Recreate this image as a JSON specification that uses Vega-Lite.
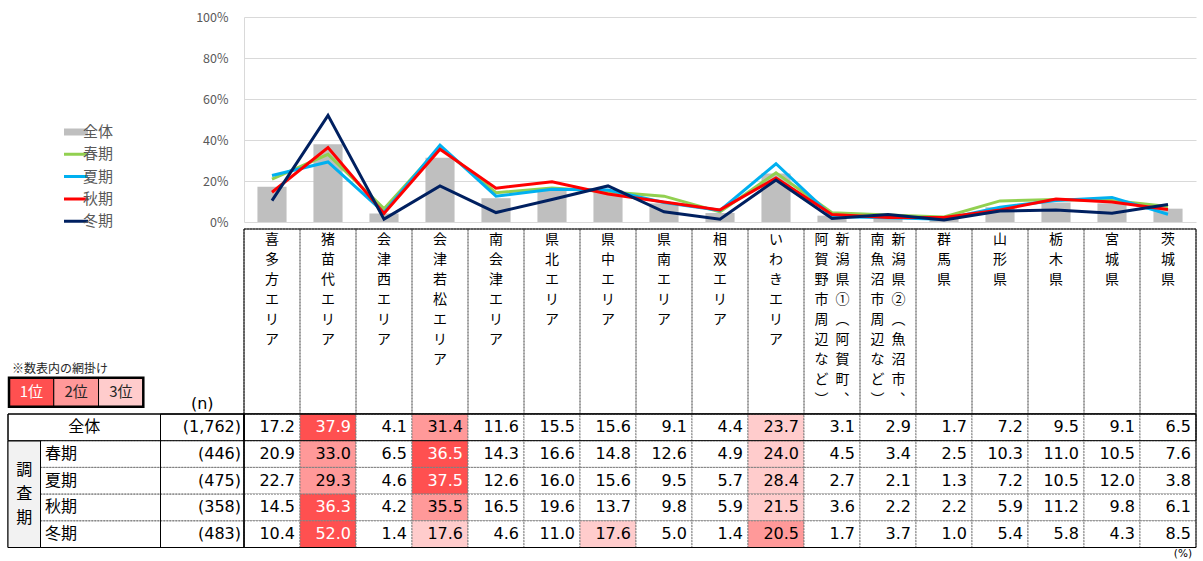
{
 "$schema": "https://vega.github.io/schema/vega-lite/v6.json",
 "width": 952,
 "height": 205,
 "autosize": {"type": "none"},
 "padding": {"left": 244, "top": 17, "right": 7, "bottom": 339},
 "background": "#ffffff",
 "config": {"view": {"stroke": null}, "font": "Noto Sans CJK JP"},
 "datasets": {
  "main": [
   {"season":"全体","area":"喜多方エリア","value":17.2},
   {"season":"全体","area":"猪苗代エリア","value":37.9},
   {"season":"全体","area":"会津西エリア","value":4.1},
   {"season":"全体","area":"会津若松エリア","value":31.4},
   {"season":"全体","area":"南会津エリア","value":11.6},
   {"season":"全体","area":"県北エリア","value":15.5},
   {"season":"全体","area":"県中エリア","value":15.6},
   {"season":"全体","area":"県南エリア","value":9.1},
   {"season":"全体","area":"相双エリア","value":4.4},
   {"season":"全体","area":"いわきエリア","value":23.7},
   {"season":"全体","area":"新潟県①（阿賀町、阿賀野市周辺など）","value":3.1},
   {"season":"全体","area":"新潟県②（魚沼市、南魚沼市周辺など）","value":2.9},
   {"season":"全体","area":"群馬県","value":1.7},
   {"season":"全体","area":"山形県","value":7.2},
   {"season":"全体","area":"栃木県","value":9.5},
   {"season":"全体","area":"宮城県","value":9.1},
   {"season":"全体","area":"茨城県","value":6.5},
   {"season":"春期","area":"喜多方エリア","value":20.9},
   {"season":"春期","area":"猪苗代エリア","value":33.0},
   {"season":"春期","area":"会津西エリア","value":6.5},
   {"season":"春期","area":"会津若松エリア","value":36.5},
   {"season":"春期","area":"南会津エリア","value":14.3},
   {"season":"春期","area":"県北エリア","value":16.6},
   {"season":"春期","area":"県中エリア","value":14.8},
   {"season":"春期","area":"県南エリア","value":12.6},
   {"season":"春期","area":"相双エリア","value":4.9},
   {"season":"春期","area":"いわきエリア","value":24.0},
   {"season":"春期","area":"新潟県①（阿賀町、阿賀野市周辺など）","value":4.5},
   {"season":"春期","area":"新潟県②（魚沼市、南魚沼市周辺など）","value":3.4},
   {"season":"春期","area":"群馬県","value":2.5},
   {"season":"春期","area":"山形県","value":10.3},
   {"season":"春期","area":"栃木県","value":11.0},
   {"season":"春期","area":"宮城県","value":10.5},
   {"season":"春期","area":"茨城県","value":7.6},
   {"season":"夏期","area":"喜多方エリア","value":22.7},
   {"season":"夏期","area":"猪苗代エリア","value":29.3},
   {"season":"夏期","area":"会津西エリア","value":4.6},
   {"season":"夏期","area":"会津若松エリア","value":37.5},
   {"season":"夏期","area":"南会津エリア","value":12.6},
   {"season":"夏期","area":"県北エリア","value":16.0},
   {"season":"夏期","area":"県中エリア","value":15.6},
   {"season":"夏期","area":"県南エリア","value":9.5},
   {"season":"夏期","area":"相双エリア","value":5.7},
   {"season":"夏期","area":"いわきエリア","value":28.4},
   {"season":"夏期","area":"新潟県①（阿賀町、阿賀野市周辺など）","value":2.7},
   {"season":"夏期","area":"新潟県②（魚沼市、南魚沼市周辺など）","value":2.1},
   {"season":"夏期","area":"群馬県","value":1.3},
   {"season":"夏期","area":"山形県","value":7.2},
   {"season":"夏期","area":"栃木県","value":10.5},
   {"season":"夏期","area":"宮城県","value":12.0},
   {"season":"夏期","area":"茨城県","value":3.8},
   {"season":"秋期","area":"喜多方エリア","value":14.5},
   {"season":"秋期","area":"猪苗代エリア","value":36.3},
   {"season":"秋期","area":"会津西エリア","value":4.2},
   {"season":"秋期","area":"会津若松エリア","value":35.5},
   {"season":"秋期","area":"南会津エリア","value":16.5},
   {"season":"秋期","area":"県北エリア","value":19.6},
   {"season":"秋期","area":"県中エリア","value":13.7},
   {"season":"秋期","area":"県南エリア","value":9.8},
   {"season":"秋期","area":"相双エリア","value":5.9},
   {"season":"秋期","area":"いわきエリア","value":21.5},
   {"season":"秋期","area":"新潟県①（阿賀町、阿賀野市周辺など）","value":3.6},
   {"season":"秋期","area":"新潟県②（魚沼市、南魚沼市周辺など）","value":2.2},
   {"season":"秋期","area":"群馬県","value":2.2},
   {"season":"秋期","area":"山形県","value":5.9},
   {"season":"秋期","area":"栃木県","value":11.2},
   {"season":"秋期","area":"宮城県","value":9.8},
   {"season":"秋期","area":"茨城県","value":6.1},
   {"season":"冬期","area":"喜多方エリア","value":10.4},
   {"season":"冬期","area":"猪苗代エリア","value":52.0},
   {"season":"冬期","area":"会津西エリア","value":1.4},
   {"season":"冬期","area":"会津若松エリア","value":17.6},
   {"season":"冬期","area":"南会津エリア","value":4.6},
   {"season":"冬期","area":"県北エリア","value":11.0},
   {"season":"冬期","area":"県中エリア","value":17.6},
   {"season":"冬期","area":"県南エリア","value":5.0},
   {"season":"冬期","area":"相双エリア","value":1.4},
   {"season":"冬期","area":"いわきエリア","value":20.5},
   {"season":"冬期","area":"新潟県①（阿賀町、阿賀野市周辺など）","value":1.7},
   {"season":"冬期","area":"新潟県②（魚沼市、南魚沼市周辺など）","value":3.7},
   {"season":"冬期","area":"群馬県","value":1.0},
   {"season":"冬期","area":"山形県","value":5.4},
   {"season":"冬期","area":"栃木県","value":5.8},
   {"season":"冬期","area":"宮城県","value":4.3},
   {"season":"冬期","area":"茨城県","value":8.5}
  ],
  "leftcells": [
   {"row":"全体","col":"全体","text":"全体"},
   {"row":"春期","col":"区分","text":"春期"},
   {"row":"夏期","col":"区分","text":"夏期"},
   {"row":"秋期","col":"区分","text":"秋期"},
   {"row":"冬期","col":"区分","text":"冬期"},
   {"row":"全体","col":"n","text":"(1,762)"},
   {"row":"春期","col":"n","text":"(446)"},
   {"row":"夏期","col":"n","text":"(475)"},
   {"row":"秋期","col":"n","text":"(358)"},
   {"row":"冬期","col":"n","text":"(483)"}
  ]
 },
 "resolve": {"scale": {"x": "independent", "y": "independent"}},
 "layer": [
  {
   "resolve": {"scale": {"y": "independent"}},
   "layer": [
    {
     "data": {"name": "main"},
     "layer": [
      {
       "transform": [{"filter": "datum.season == '全体'"}],
       "mark": {"type": "bar", "color": "#bfbfbf", "width": {"band": 0.52}},
       "encoding": {
        "x": {"field": "area", "type": "nominal",
         "scale": {"type": "band", "domain": ["喜多方エリア","猪苗代エリア","会津西エリア","会津若松エリア","南会津エリア","県北エリア","県中エリア","県南エリア","相双エリア","いわきエリア","新潟県①（阿賀町、阿賀野市周辺など）","新潟県②（魚沼市、南魚沼市周辺など）","群馬県","山形県","栃木県","宮城県","茨城県"], "paddingInner": 0, "paddingOuter": 0},
         "axis": {"title": null, "orient": "bottom", "offset": 7, "domain": false, "ticks": false, "grid": false, "labelAngle": 0, "labelAlign": "center", "labelBaseline": "top", "labelPadding": 3, "labelFont": "Noto Sans CJK JP", "labelFontSize": 14, "labelColor": "#000000", "labelLineHeight": 20, "labelOverlap": false, "labelBound": false, "labelLimit": 0,
          "labelExpr": "datum.value == '新潟県①（阿賀町、阿賀野市周辺など）' ? ['阿\u2002新','賀\u2002潟','野\u2002県','市\u2002①','周\u2002︵','辺\u2002阿','な\u2002賀','ど\u2002町','︶\u2002︑'] : datum.value == '新潟県②（魚沼市、南魚沼市周辺など）' ? ['南\u2002新','魚\u2002潟','沼\u2002県','市\u2002②','周\u2002︵','辺\u2002魚','な\u2002沼','ど\u2002市','︶\u2002︑'] : split(datum.value, '')"}},
        "y": {"field": "value", "type": "quantitative", "scale": {"domain": [0, 100]},
         "axis": {"title": null, "values": [0, 20, 40, 60, 80, 100], "labelExpr": "datum.value + '%'", "ticks": false, "domainColor": "#d9d9d9", "gridColor": "#d9d9d9", "labelFont": "Noto Sans CJK JP", "labelFontSize": 12.5, "labelColor": "#595959", "labelPadding": 16}}
       }
      },
      {
       "transform": [{"filter": "datum.season != '全体'"}],
       "mark": {"type": "line", "strokeWidth": 3},
       "encoding": {
        "x": {"field": "area", "type": "nominal",
         "scale": {"type": "band", "domain": ["喜多方エリア","猪苗代エリア","会津西エリア","会津若松エリア","南会津エリア","県北エリア","県中エリア","県南エリア","相双エリア","いわきエリア","新潟県①（阿賀町、阿賀野市周辺など）","新潟県②（魚沼市、南魚沼市周辺など）","群馬県","山形県","栃木県","宮城県","茨城県"], "paddingInner": 0, "paddingOuter": 0}},
        "y": {"field": "value", "type": "quantitative", "scale": {"domain": [0, 100]}},
        "order": {"value": null},
        "color": {"field": "season", "type": "nominal",
         "scale": {"domain": ["全体","春期","夏期","秋期","冬期"], "range": ["#bfbfbf","#92d050","#00b0f0","#ff0000","#002060"]},
         "legend": {"orient": "none", "legendX": -180, "legendY": 108, "title": null, "direction": "vertical", "symbolType": "stroke", "symbolSize": 1089, "symbolStrokeWidth": 3, "clipHeight": 14, "rowPadding": 7.3, "labelOffset": 4, "padding": 0, "labelFont": "Noto Sans CJK JP", "labelFontSize": 15, "labelColor": "#595959",
          "encode": {"symbols": {"update": {"strokeWidth": {"signal": "datum.value == '全体' ? 7 : 3"}, "strokeCap": {"value": "butt"}}}}}}
       }
      }
     ]
    },
    {
     "data": {"name": "main"},
     "transform": [{"filter": "datum.season == '全体'"}],
     "mark": {"type": "rect", "fill": "transparent", "stroke": "#7f7f7f", "strokeWidth": 1, "strokeDash": [2, 1]},
     "encoding": {
      "x": {"field": "area", "type": "nominal",
       "scale": {"type": "band", "domain": ["喜多方エリア","猪苗代エリア","会津西エリア","会津若松エリア","南会津エリア","県北エリア","県中エリア","県南エリア","相双エリア","いわきエリア","新潟県①（阿賀町、阿賀野市周辺など）","新潟県②（魚沼市、南魚沼市周辺など）","群馬県","山形県","栃木県","宮城県","茨城県"], "paddingInner": 0, "paddingOuter": 0}},
      "y": {"datum": "見出し", "type": "nominal", "scale": {"type": "band", "domain": ["見出し"], "range": [212, 397], "paddingInner": 0, "paddingOuter": 0}, "axis": null}
     }
    },
    {
     "data": {"values": [{"k": "見出し"}]},
     "mark": {"type": "rect", "fill": "transparent", "stroke": "#000000", "strokeWidth": 1},
     "encoding": {
      "y": {"field": "k", "type": "nominal", "scale": {"type": "band", "domain": ["見出し"], "range": [212, 397], "paddingInner": 0, "paddingOuter": 0}, "axis": null}
     }
    },
    {
     "data": {"name": "main"},
     "transform": [{"window": [{"op": "rank", "as": "rank"}], "groupby": ["season"], "sort": [{"field": "value", "order": "descending"}]}],
     "layer": [
      {
       "mark": {"type": "rect", "stroke": "#7f7f7f", "strokeWidth": 1, "strokeDash": [2, 1]},
       "encoding": {
        "x": {"field": "area", "type": "nominal",
         "scale": {"type": "band", "domain": ["喜多方エリア","猪苗代エリア","会津西エリア","会津若松エリア","南会津エリア","県北エリア","県中エリア","県南エリア","相双エリア","いわきエリア","新潟県①（阿賀町、阿賀野市周辺など）","新潟県②（魚沼市、南魚沼市周辺など）","群馬県","山形県","栃木県","宮城県","茨城県"], "paddingInner": 0, "paddingOuter": 0}},
        "y": {"field": "season", "type": "nominal", "scale": {"type": "band", "domain": ["全体","春期","夏期","秋期","冬期"], "range": [397, 530.5], "paddingInner": 0, "paddingOuter": 0}, "axis": null},
        "fill": {"condition": [{"test": "datum.rank == 1", "value": "#ff5050"}, {"test": "datum.rank == 2", "value": "#ff9999"}, {"test": "datum.rank == 3", "value": "#ffcccc"}], "value": "#ffffff"}
       }
      },
      {
       "mark": {"type": "text", "align": "right", "baseline": "middle", "dx": -5, "font": "DejaVu Sans", "fontSize": 16},
       "encoding": {
        "x": {"field": "area", "type": "nominal", "bandPosition": 1,
         "scale": {"type": "band", "domain": ["喜多方エリア","猪苗代エリア","会津西エリア","会津若松エリア","南会津エリア","県北エリア","県中エリア","県南エリア","相双エリア","いわきエリア","新潟県①（阿賀町、阿賀野市周辺など）","新潟県②（魚沼市、南魚沼市周辺など）","群馬県","山形県","栃木県","宮城県","茨城県"], "paddingInner": 0, "paddingOuter": 0}},
        "y": {"field": "season", "type": "nominal", "scale": {"type": "band", "domain": ["全体","春期","夏期","秋期","冬期"], "range": [397, 530.5], "paddingInner": 0, "paddingOuter": 0}, "axis": null},
        "text": {"field": "value", "type": "quantitative", "format": ".1f"},
        "color": {"condition": {"test": "datum.rank == 1", "value": "#ffffff"}, "value": "#000000"}
       }
      },
      {
       "transform": [{"filter": "datum.season == '全体' && datum.area == '喜多方エリア'"}],
       "mark": {"type": "rect", "fill": "transparent", "stroke": "#000000", "strokeWidth": 1},
       "encoding": {
        "y": {"field": "season", "type": "nominal", "scale": {"type": "band", "domain": ["全体","春期","夏期","秋期","冬期"], "range": [397, 530.5], "paddingInner": 0, "paddingOuter": 0}, "axis": null}
       }
      }
     ]
    },
    {
     "data": {"values": [{"k": "表"}]},
     "mark": {"type": "rect", "fill": "transparent", "stroke": "#000000", "strokeWidth": 1},
     "encoding": {
      "y": {"field": "k", "type": "nominal", "scale": {"type": "band", "domain": ["表"], "range": [397, 530.5], "paddingInner": 0, "paddingOuter": 0}, "axis": null}
     }
    },
    {
     "data": {"values": [{"t": "(%)", "area": "茨城県", "row": "表"}]},
     "mark": {"type": "text", "align": "right", "baseline": "top", "dx": -4, "dy": 1.5, "font": "DejaVu Sans", "fontSize": 10.5, "color": "#000000"},
     "encoding": {
      "x": {"field": "area", "type": "nominal", "bandPosition": 1,
       "scale": {"type": "band", "domain": ["喜多方エリア","猪苗代エリア","会津西エリア","会津若松エリア","南会津エリア","県北エリア","県中エリア","県南エリア","相双エリア","いわきエリア","新潟県①（阿賀町、阿賀野市周辺など）","新潟県②（魚沼市、南魚沼市周辺など）","群馬県","山形県","栃木県","宮城県","茨城県"], "paddingInner": 0, "paddingOuter": 0}},
      "y": {"field": "row", "type": "nominal", "bandPosition": 1, "scale": {"type": "band", "domain": ["表"], "range": [397, 530.5], "paddingInner": 0, "paddingOuter": 0}, "axis": null},
      "text": {"field": "t"}
     }
    }
   ]
  },
  {
   "data": {"name": "leftcells"},
   "transform": [{"filter": "datum.col == '区分'"}],
   "mark": {"type": "rect", "fill": "transparent", "stroke": "#7f7f7f", "strokeWidth": 1, "strokeDash": [2, 1]},
   "encoding": {
    "x": {"field": "col", "type": "nominal", "scale": {"type": "band", "domain": ["区分"], "range": [-203.5, 0], "paddingInner": 0, "paddingOuter": 0}, "axis": null},
    "y": {"field": "row", "type": "nominal", "scale": {"type": "band", "domain": ["全体","春期","夏期","秋期","冬期"], "range": [397, 530.5], "paddingInner": 0, "paddingOuter": 0}, "axis": null}
   }
  },
  {
   "data": {"values": [{"k": "左表"}]},
   "mark": {"type": "rect", "fill": "transparent", "stroke": "#000000", "strokeWidth": 1},
   "encoding": {
    "x": {"field": "k", "type": "nominal", "scale": {"type": "band", "domain": ["左表"], "range": [-236, 0], "paddingInner": 0, "paddingOuter": 0}, "axis": null},
    "y": {"field": "k", "type": "nominal", "scale": {"type": "band", "domain": ["左表"], "range": [397, 530.5], "paddingInner": 0, "paddingOuter": 0}, "axis": null}
   }
  },
  {
   "data": {"name": "leftcells"},
   "transform": [{"filter": "datum.col == '全体'"}],
   "mark": {"type": "rect", "fill": "transparent", "stroke": "#000000", "strokeWidth": 1},
   "encoding": {
    "x": {"field": "col", "type": "nominal", "scale": {"type": "band", "domain": ["全体"], "range": [-236, 0], "paddingInner": 0, "paddingOuter": 0}, "axis": null},
    "y": {"field": "row", "type": "nominal", "scale": {"type": "band", "domain": ["全体","春期","夏期","秋期","冬期"], "range": [397, 530.5], "paddingInner": 0, "paddingOuter": 0}, "axis": null}
   }
  },
  {
   "data": {"values": [{"k": "n"}]},
   "mark": {"type": "rect", "fill": "transparent", "stroke": "#000000", "strokeWidth": 1},
   "encoding": {
    "x": {"field": "k", "type": "nominal", "scale": {"type": "band", "domain": ["n"], "range": [-83.5, 0], "paddingInner": 0, "paddingOuter": 0}, "axis": null},
    "y": {"datum": "表", "type": "nominal", "scale": {"type": "band", "domain": ["表"], "range": [397, 530.5], "paddingInner": 0, "paddingOuter": 0}, "axis": null}
   }
  },
  {
   "data": {"values": [{"k": "調査期"}]},
   "layer": [
    {
     "mark": {"type": "rect", "fill": "#f2f2f2", "stroke": "#000000", "strokeWidth": 1},
     "encoding": {
      "x": {"field": "k", "type": "nominal", "scale": {"type": "band", "domain": ["調査期"], "range": [-236, -203.5], "paddingInner": 0, "paddingOuter": 0}, "axis": null},
      "y": {"field": "k", "type": "nominal", "scale": {"type": "band", "domain": ["調査期"], "range": [424, 530.5], "paddingInner": 0, "paddingOuter": 0}, "axis": null}
     }
    },
    {
     "mark": {"type": "text", "align": "center", "baseline": "middle", "dy": -24, "fontSize": 16, "lineHeight": 24, "color": "#000000", "text": {"expr": "split(datum.k, '')"}},
     "encoding": {
      "x": {"field": "k", "type": "nominal", "scale": {"type": "band", "domain": ["調査期"], "range": [-236, -203.5], "paddingInner": 0, "paddingOuter": 0}, "axis": null},
      "y": {"field": "k", "type": "nominal", "scale": {"type": "band", "domain": ["調査期"], "range": [424, 530.5], "paddingInner": 0, "paddingOuter": 0}, "axis": null}
     }
    }
   ]
  },
  {
   "data": {"name": "leftcells"},
   "transform": [{"filter": "datum.col == '全体'"}],
   "mark": {"type": "text", "align": "center", "baseline": "middle", "fontSize": 16, "color": "#000000"},
   "encoding": {
    "x": {"field": "col", "type": "nominal", "scale": {"type": "band", "domain": ["全体"], "range": [-236, -83.5], "paddingInner": 0, "paddingOuter": 0}, "axis": null},
    "y": {"field": "row", "type": "nominal", "scale": {"type": "band", "domain": ["全体","春期","夏期","秋期","冬期"], "range": [397, 530.5], "paddingInner": 0, "paddingOuter": 0}, "axis": null},
    "text": {"field": "text"}
   }
  },
  {
   "data": {"name": "leftcells"},
   "transform": [{"filter": "datum.col == '区分'"}],
   "mark": {"type": "text", "align": "left", "baseline": "middle", "dx": 4.5, "fontSize": 16, "color": "#000000"},
   "encoding": {
    "x": {"field": "col", "type": "nominal", "bandPosition": 0, "scale": {"type": "band", "domain": ["区分"], "range": [-203.5, -83.5], "paddingInner": 0, "paddingOuter": 0}, "axis": null},
    "y": {"field": "row", "type": "nominal", "scale": {"type": "band", "domain": ["全体","春期","夏期","秋期","冬期"], "range": [397, 530.5], "paddingInner": 0, "paddingOuter": 0}, "axis": null},
    "text": {"field": "text"}
   }
  },
  {
   "data": {"name": "leftcells"},
   "transform": [{"filter": "datum.col == 'n'"}],
   "mark": {"type": "text", "align": "right", "baseline": "middle", "dx": -3, "font": "DejaVu Sans", "fontSize": 16, "color": "#000000"},
   "encoding": {
    "x": {"field": "col", "type": "nominal", "bandPosition": 1, "scale": {"type": "band", "domain": ["n"], "range": [-83.5, 0], "paddingInner": 0, "paddingOuter": 0}, "axis": null},
    "y": {"field": "row", "type": "nominal", "scale": {"type": "band", "domain": ["全体","春期","夏期","秋期","冬期"], "range": [397, 530.5], "paddingInner": 0, "paddingOuter": 0}, "axis": null},
    "text": {"field": "text"}
   }
  },
  {
   "data": {"values": [{"t": "(n)", "col": "n", "row": "見出し"}]},
   "mark": {"type": "text", "align": "center", "baseline": "bottom", "dy": -2, "font": "DejaVu Sans", "fontSize": 16, "color": "#000000"},
   "encoding": {
    "x": {"field": "col", "type": "nominal", "scale": {"type": "band", "domain": ["n"], "range": [-83.5, 0], "paddingInner": 0, "paddingOuter": 0}, "axis": null},
    "y": {"field": "row", "type": "nominal", "bandPosition": 1, "scale": {"type": "band", "domain": ["見出し"], "range": [212, 397], "paddingInner": 0, "paddingOuter": 0}, "axis": null},
    "text": {"field": "t"}
   }
  },
  {
   "data": {"values": [{"rank": "1位"}, {"rank": "2位"}, {"rank": "3位"}]},
   "layer": [
    {
     "mark": {"type": "rect", "stroke": "#000000", "strokeWidth": 1},
     "encoding": {
      "x": {"field": "rank", "type": "nominal", "scale": {"type": "band", "domain": ["1位","2位","3位"], "range": [-235, -100.7], "paddingInner": 0, "paddingOuter": 0}, "axis": null},
      "y": {"datum": "網掛け", "type": "nominal", "scale": {"type": "band", "domain": ["網掛け"], "range": [360.7, 389.7], "paddingInner": 0, "paddingOuter": 0}, "axis": null},
      "fill": {"condition": [{"test": "datum.rank == '1位'", "value": "#ff5050"}, {"test": "datum.rank == '2位'", "value": "#ff9999"}], "value": "#ffcccc"}
     }
    },
    {
     "mark": {"type": "text", "align": "center", "baseline": "middle", "fontSize": 15},
     "encoding": {
      "x": {"field": "rank", "type": "nominal", "scale": {"type": "band", "domain": ["1位","2位","3位"], "range": [-235, -100.7], "paddingInner": 0, "paddingOuter": 0}, "axis": null},
      "y": {"datum": "網掛け", "type": "nominal", "scale": {"type": "band", "domain": ["網掛け"], "range": [360.7, 389.7], "paddingInner": 0, "paddingOuter": 0}, "axis": null},
      "text": {"field": "rank"},
      "color": {"condition": {"test": "datum.rank == '1位'", "value": "#ffffff"}, "value": "#262626"}
     }
    }
   ]
  },
  {
   "data": {"values": [{"k": "網掛け", "t": "※数表内の網掛け"}]},
   "layer": [
    {
     "mark": {"type": "rect", "fill": "transparent", "stroke": "#000000", "strokeWidth": 2.5},
     "encoding": {
      "x": {"field": "k", "type": "nominal", "scale": {"type": "band", "domain": ["網掛け"], "range": [-235, -100.7], "paddingInner": 0, "paddingOuter": 0}, "axis": null},
      "y": {"field": "k", "type": "nominal", "scale": {"type": "band", "domain": ["網掛け"], "range": [360.7, 389.7], "paddingInner": 0, "paddingOuter": 0}, "axis": null}
     }
    },
    {
     "mark": {"type": "text", "align": "left", "baseline": "bottom", "dx": 3, "dy": -2, "fontSize": 12, "color": "#262626"},
     "encoding": {
      "x": {"field": "k", "type": "nominal", "bandPosition": 0, "scale": {"type": "band", "domain": ["網掛け"], "range": [-235, -100.7], "paddingInner": 0, "paddingOuter": 0}, "axis": null},
      "y": {"field": "k", "type": "nominal", "bandPosition": 0, "scale": {"type": "band", "domain": ["網掛け"], "range": [360.7, 389.7], "paddingInner": 0, "paddingOuter": 0}, "axis": null},
      "text": {"field": "t"}
     }
    }
   ]
  }
 ]
}
